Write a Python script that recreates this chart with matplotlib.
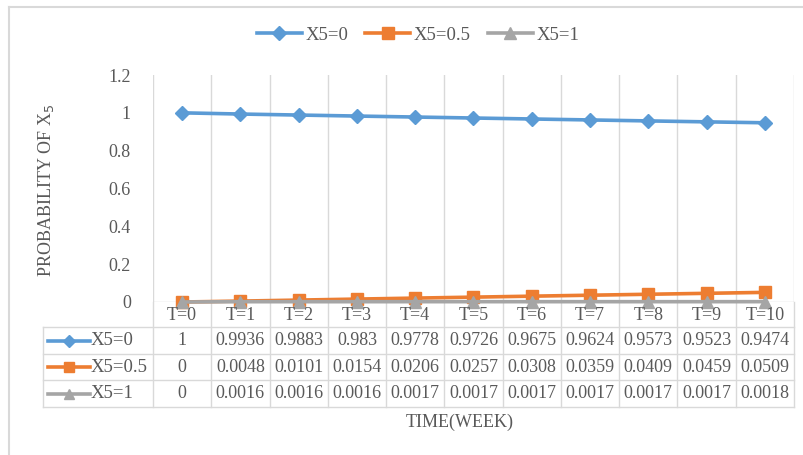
import matplotlib.pyplot as plt
from matplotlib.lines import Line2D
import matplotlib.transforms as mtransforms

plt.rcParams['font.family'] = ['Liberation Serif', 'DejaVu Serif']

# data
time_labels = ["T=0", "T=1", "T=2", "T=3", "T=4", "T=5", "T=6", "T=7", "T=8", "T=9", "T=10"]
x5_0 = [1, 0.9936, 0.9883, 0.983, 0.9778, 0.9726, 0.9675, 0.9624, 0.9573, 0.9523, 0.9474]
x5_05 = [0, 0.0048, 0.0101, 0.0154, 0.0206, 0.0257, 0.0308, 0.0359, 0.0409, 0.0459, 0.0509]
x5_1 = [0, 0.0016, 0.0016, 0.0016, 0.0017, 0.0017, 0.0017, 0.0017, 0.0017, 0.0017, 0.0018]
series_names = ["X5=0", "X5=0.5", "X5=1"]

colors = ["#5B9BD5", "#ED7D31", "#A5A5A5"]
markers = ["D", "s", "^"]
msizes = [7, 8, 8]
grid_c = "#D9D9D9"
txt_c = "#595959"

W, H = 804, 455
fig = plt.figure(figsize=(W / 100, H / 100), dpi=100)

# plot area in pixel coords
left, right, top, bottom = 153, 794, 75, 302
ax = fig.add_axes([left / W, 1 - bottom / H, (right - left) / W, (bottom - top) / H])

x = list(range(len(time_labels)))
all_series = [x5_0, x5_05, x5_1]
for vals, c, m, ms, name in zip(all_series, colors, markers, msizes, series_names):
    ax.plot(x, vals, color=c, lw=2.6, marker=m, ms=ms, label=name, zorder=3, clip_on=False)

ax.set_xlim(-0.5, len(x) - 0.5)
ax.set_ylim(0, 1.2)
ax.set_yticks([0, 0.2, 0.4, 0.6, 0.8, 1, 1.2])
ax.set_yticklabels(["0", "0.2", "0.4", "0.6", "0.8", "1", "1.2"])
ax.tick_params(axis='y', length=0, labelsize=13, colors=txt_c, pad=16)
ax.set_xticks([])
for s in ax.spines.values():
    s.set_visible(False)

# vertical gridlines
for k in range(len(x) + 1):
    ax.axvline(k - 0.5, color=grid_c, lw=1, zorder=1)
ax.axhline(0, color=grid_c, lw=1, zorder=1)

# data table below the axes
ph = bottom - top
row_bounds = [302, 327, 354, 380, 407]
to_ax = lambda py: (bottom - py) / ph
trans = mtransforms.blended_transform_factory(ax.transData, ax.transAxes)
tbl_left = 43
xa_left = (tbl_left - left) / (right - left)

# horizontal table lines
for py in row_bounds[1:]:
    ax.add_line(Line2D([xa_left, 1], [to_ax(py)] * 2, transform=ax.transAxes,
                       color=grid_c, lw=1, clip_on=False))
# vertical table lines
for k in range(len(x) + 1):
    ax.add_line(Line2D([k - 0.5] * 2, [0, to_ax(row_bounds[-1])], transform=trans,
                       color=grid_c, lw=1, clip_on=False))
ax.add_line(Line2D([xa_left] * 2, [to_ax(row_bounds[1]), to_ax(row_bounds[-1])],
                   transform=ax.transAxes, color=grid_c, lw=1, clip_on=False))

# header labels
for xi, lab in zip(x, time_labels):
    ax.text(xi, to_ax((row_bounds[0] + row_bounds[1]) / 2 + 1), lab, transform=trans,
            ha='center', va='center', fontsize=13, color=txt_c)

# value rows
for r, (vals, c, m, ms, name) in enumerate(zip(all_series, colors, markers, msizes, series_names)):
    yc = to_ax((row_bounds[r + 1] + row_bounds[r + 2]) / 2)
    for xi, v in zip(x, vals):
        ax.text(xi, yc, f"{v:g}", transform=trans, ha='center', va='center',
                fontsize=13, color=txt_c)
    kx0 = (48 - left) / (right - left)
    kx1 = (90 - left) / (right - left)
    ax.add_line(Line2D([kx0, kx1], [yc, yc], transform=ax.transAxes, color=c, lw=2.6,
                       clip_on=False))
    ax.add_line(Line2D([(kx0 + kx1) / 2], [yc], transform=ax.transAxes, color=c,
                       marker=m, ms=ms - 1, clip_on=False))
    ax.text((91 - left) / (right - left), yc, name, transform=ax.transAxes,
            ha='left', va='center', fontsize=13.5, color=txt_c)

# axis titles
fig.text(460 / W, 1 - 422 / H, "TIME(WEEK)", ha='center', va='center', fontsize=13, color=txt_c)
fig.text(46 / W, 1 - 190 / H, r"PROBABILITY OF X$_5$", ha='center', va='center',
         rotation=90, fontsize=13, color=txt_c)

# legend
fig.legend(loc='center', bbox_to_anchor=(418 / W, 1 - 35 / H), ncol=3, frameon=False,
           fontsize=13.5, handlelength=2.4, columnspacing=0.9, handletextpad=0.2,
           labelcolor=txt_c)

# chart border (only top and left edges are visible in the crop)
fig.add_artist(Line2D([9 / W, 1], [1 - 7 / H] * 2, transform=fig.transFigure, color=grid_c, lw=1.5))
fig.add_artist(Line2D([9 / W] * 2, [0, 1 - 7 / H], transform=fig.transFigure, color=grid_c, lw=1.5))

fig.savefig("out.png", dpi=100)
